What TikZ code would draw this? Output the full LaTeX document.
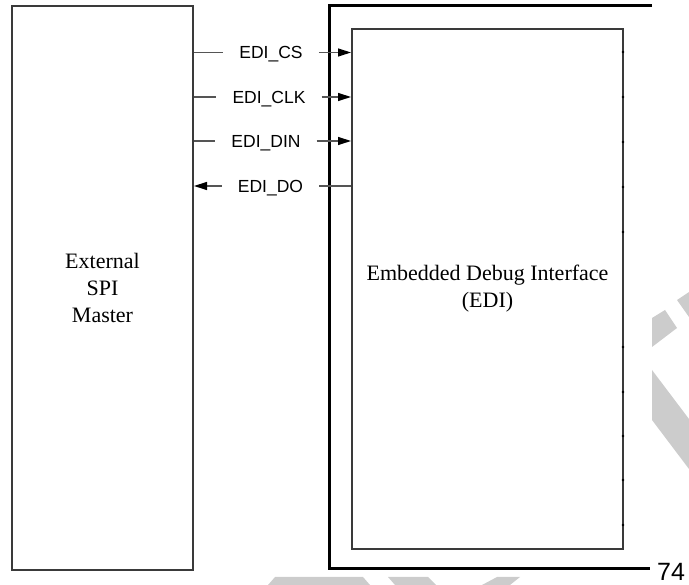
\documentclass[tikz,border=0pt]{standalone}
\usepackage{fontspec}
\setmainfont{Liberation Serif}
\setsansfont{Liberation Sans}
\usepackage{tikz}
\usetikzlibrary{arrows.meta, positioning}
\definecolor{boxgray}{HTML}{3A3A3A}
\definecolor{stubgray}{HTML}{555555}
\definecolor{markgray}{HTML}{CCCCCC}
\tikzstyle{blockbox}=[rectangle,draw=boxgray,line width=2pt,inner sep=0pt,
  font=\fontsize{22}{27}\selectfont,align=center]
\tikzstyle{signame}=[font=\sffamily\fontsize{17.5}{20}\selectfont,
  text height=12.5pt,text depth=0pt,inner ysep=0pt,inner xsep=16pt]
\tikzstyle{stub}=[line width=1.3pt,color=stubgray]
\tikzstyle{stubarr}=[stub,-{Triangle[length=13pt,width=8pt,color=black]}]

\begin{document}
\begin{tikzpicture}[x=1pt,y=-1pt]
  \useasboundingbox (0,0) rectangle (689,585);
  % watermark pieces
  \fill[markgray] (652,318) -- (665,310) -- (677,328) -- (652,347) -- cycle;
  \fill[markgray] (677,300) -- (689,292) -- (689,317) -- cycle;
  \fill[markgray] (652,370) -- (689,419) -- (689,469) -- (652,420) -- cycle;
  \fill[markgray] (268,585) -- (275,577) -- (363,577) -- (370,585) -- cycle;
  \fill[markgray] (388,577) -- (428,577) -- (436,585) -- (395,585) -- cycle;
  \fill[markgray] (482,585) -- (497,577) -- (520,577) -- (510,585) -- cycle;
  % blocks
  \node[blockbox,minimum width=181pt,minimum height=564pt] (master) at (102.5,288) {External\\SPI\\Master};
  \node[blockbox,minimum width=271pt,minimum height=520pt] (edi) at (487.5,289) {Embedded Debug Interface\\(EDI)};
  \draw[line width=3pt] (652,6) -| (329,569) -- (650,569);
  \node[font=\sffamily\fontsize{25}{28}\selectfont,anchor=base west,inner sep=0pt] (page) at (657,580) {74};
  % signals
  \node[signame] (cs) at (271,52.5) {EDI\_CS};
  \node[signame] (clk) at (269,97) {EDI\_CLK};
  \node[signame] (din) at (266,141) {EDI\_DIN};
  \node[signame] (do) at (270.5,186) {EDI\_DO};
  \draw[stub] (master.east |- cs) -- (cs.west);
  \draw[stubarr] (cs.east) -- (edi.west |- cs);
  \draw[stub] (master.east |- clk) -- (clk.west);
  \draw[stubarr] (clk.east) -- (edi.west |- clk);
  \draw[stub] (master.east |- din) -- (din.west);
  \draw[stubarr] (din.east) -- (edi.west |- din);
  \draw[stubarr] (do.west) -- (master.east |- do);
  \draw[stub] (do.east) -- (edi.west |- do);
  % pin dots on the right edge
  \foreach \y in {52,97,142,187,232,347,392,436,480,525}
    \fill[black] (623,\y) circle (1.3pt);
\end{tikzpicture}
\end{document}
